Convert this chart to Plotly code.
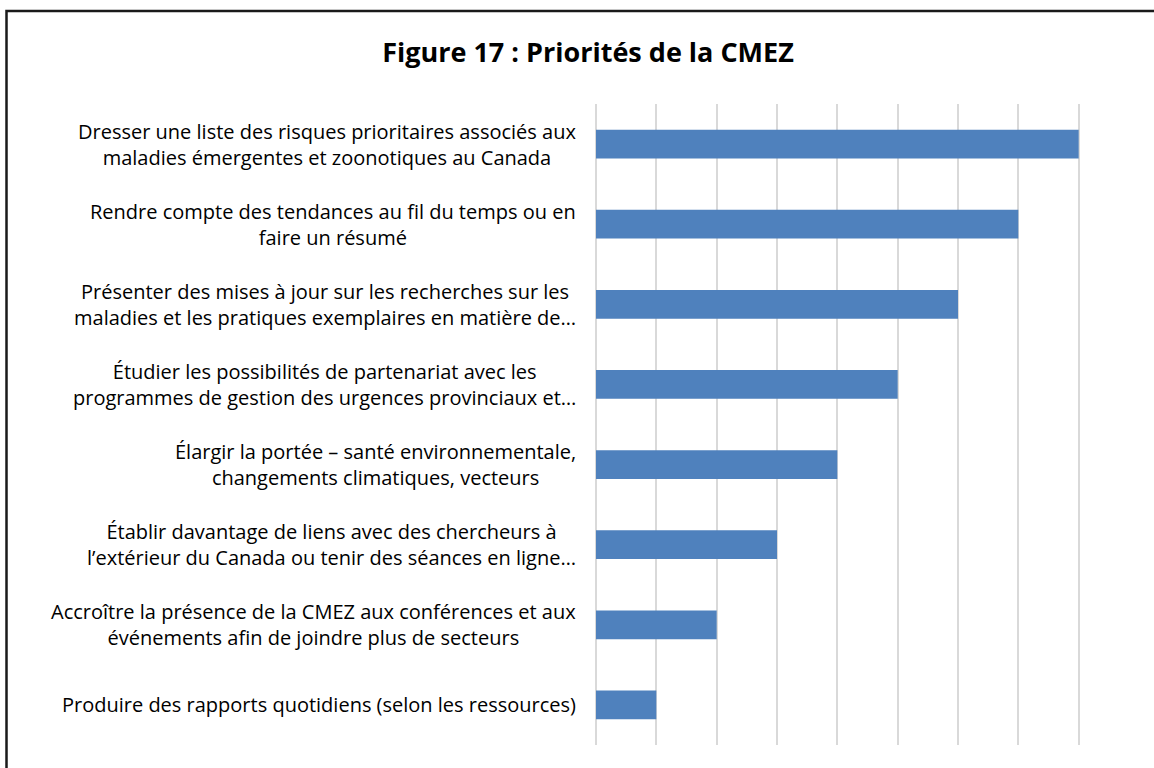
import plotly.graph_objects as go

categories = [
    "Dresser une liste des risques prioritaires associés aux<br>maladies émergentes et zoonotiques au Canada",
    "Rendre compte des tendances au fil du temps ou en<br>faire un résumé",
    "Présenter des mises à jour sur les recherches sur les<br>maladies et les pratiques exemplaires en matière de…",
    "Étudier les possibilités de partenariat avec les<br>programmes de gestion des urgences provinciaux et…",
    "Élargir la portée – santé environnementale,<br>changements climatiques, vecteurs",
    "Établir davantage de liens avec des chercheurs à<br>l’extérieur du Canada ou tenir des séances en ligne…",
    "Accroître la présence de la CMEZ aux conférences et aux<br>événements afin de joindre plus de secteurs",
    "Produire des rapports quotidiens (selon les ressources)",
]
values = [8, 7, 6, 5, 4, 3, 2, 1]
title = "Figure 17 : Priorités de la CMEZ"

FONT = "Open Sans"
ids = [f"c{i}" for i in range(len(categories))]

fig = go.Figure(go.Bar(
    y=ids, x=values, orientation="h",
    marker=dict(color="#4f81bd", line=dict(width=0)),
    hoverinfo="skip",
))

annotations = []
for cid, lab in zip(ids, categories):
    annotations.append(dict(
        x=0, y=cid, xref="x", yref="y", text=lab, showarrow=False,
        xanchor="right", yanchor="middle", align="center", xshift=-18,
        font=dict(family=FONT, size=20, color="#000000"),
    ))

W, H = 1154, 768
PL, PR, PT, PB = 596, 1139, 104, 745  # plot area in page pixels

fig.update_layout(
    width=W, height=H,
    margin=dict(l=PL, r=W - PR, t=PT, b=H - PB),
    paper_bgcolor="white", plot_bgcolor="white",
    title=dict(text=f"<b>{title}</b>", x=588 / W, xanchor="center",
               xref="container", y=1 - 53 / H, yanchor="middle",
               font=dict(family=FONT, size=27, color="#000000")),
    bargap=0.64,
    showlegend=False,
    annotations=annotations,
    xaxis=dict(range=[0, 9], dtick=1, showgrid=True, gridcolor="#d9d9d9", gridwidth=1.5,
               zeroline=True, zerolinecolor="#d9d9d9", zerolinewidth=1.5,
               showticklabels=False, ticks="", showline=False, fixedrange=True),
    yaxis=dict(autorange="reversed", showticklabels=False, ticks="", showgrid=False,
               showline=False, zeroline=False, fixedrange=True),
    shapes=[dict(type="rect", xref="paper", yref="paper",
                 x0=(6.5 - PL) / (PR - PL), x1=1.2,
                 y0=-0.2, y1=(PB - 11) / (PB - PT),
                 line=dict(color="#1a1a1a", width=2.5), fillcolor="rgba(0,0,0,0)", layer="above")],
)

fig.write_html(
    "out.html",
    config={"displayModeBar": False},
    post_script="document.body.style.margin='0';document.body.style.overflow='hidden';",
)
